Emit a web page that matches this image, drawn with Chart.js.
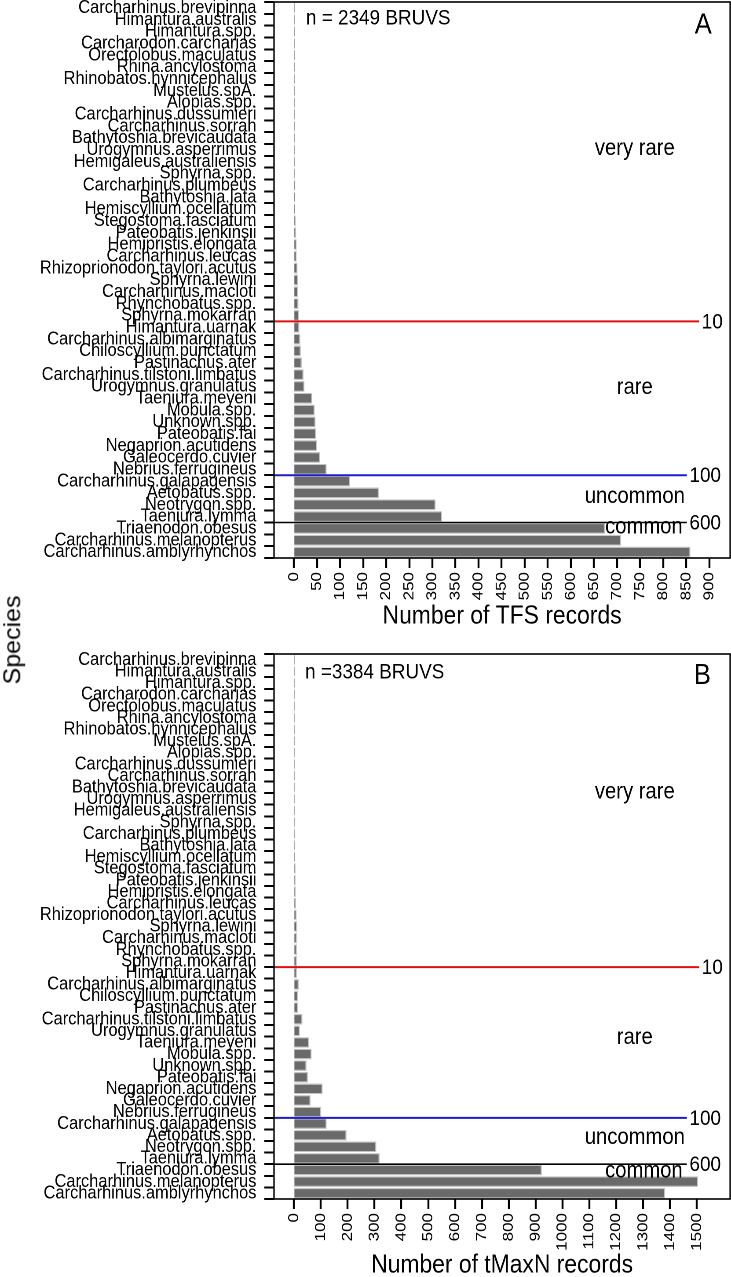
<!DOCTYPE html>
<html>
<head>
<meta charset="utf-8">
<script src="https://cdn.jsdelivr.net/npm/chart.js@4"></script>
<style>
body{margin:0;background:#fff;width:731px;height:1277px;position:relative;overflow:hidden;font-family:"Liberation Sans",Arial,sans-serif}
#chartA{position:absolute;left:0;top:0;width:731px;height:640px}
#chartB{position:absolute;left:0;top:640px;width:731px;height:637px}
#ytitle{position:absolute;left:12px;top:640px;transform:translate(-50%,-50%) scaleX(0.95) rotate(-90deg);font-size:25px;white-space:nowrap;color:#000}
</style>
</head>
<body>
<!-- drawn 831 wide and squeezed into 731 to get the narrow lettering of the original -->
<canvas id="chartA" width="831" height="640" style="width:731px;height:640px"></canvas>
<canvas id="chartB" width="831" height="637" style="width:731px;height:637px"></canvas>
<div id="ytitle">Species</div>
<script>
// species, top to bottom
var species = [
  'Carcharhinus.brevipinna', 'Himantura.australis', 'Himantura.spp.', 'Carcharodon.carcharias',
  'Orectolobus.maculatus', 'Rhina.ancylostoma', 'Rhinobatos.hynnicephalus', 'Mustelus.spA.',
  'Alopias.spp.', 'Carcharhinus.dussumieri', 'Carcharhinus.sorrah', 'Bathytoshia.brevicaudata',
  'Urogymnus.asperrimus', 'Hemigaleus.australiensis', 'Sphyrna.spp.', 'Carcharhinus.plumbeus',
  'Bathytoshia.lata', 'Hemiscyllium.ocellatum', 'Stegostoma.fasciatum', 'Pateobatis.jenkinsii',
  'Hemipristis.elongata', 'Carcharhinus.leucas', 'Rhizoprionodon.taylori.acutus', 'Sphyrna.lewini',
  'Carcharhinus.macloti', 'Rhynchobatus.spp.', 'Sphyrna.mokarran', 'Himantura.uarnak',
  'Carcharhinus.albimarginatus', 'Chiloscyllium.punctatum', 'Pastinachus.ater', 'Carcharhinus.tilstoni.limbatus',
  'Urogymnus.granulatus', 'Taeniura.meyeni', 'Mobula.spp.', 'Unknown.spp.',
  'Pateobatis.fai', 'Negaprion.acutidens', 'Galeocerdo.cuvier', 'Nebrius.ferrugineus',
  'Carcharhinus.galapagensis', 'Aetobatus.spp.', 'Neotrygon.spp.', 'Taeniura.lymma',
  'Triaenodon.obesus', 'Carcharhinus.melanopterus', 'Carcharhinus.amblyrhynchos'
];

// number of TFS records (panel A)
var tfsRecords = [
  1, 1, 1, 1, 1, 1, 1, 2,
  2, 2, 2, 2, 2, 2, 2, 3,
  3, 3, 4, 5, 6, 6, 8, 9,
  9, 10, 11, 12, 14, 15, 17, 21,
  23, 40, 45, 47, 48, 50, 57, 71,
  122, 184, 307, 321, 674, 709, 859
];

// number of tMaxN records (panel B)
var tmaxnRecords = [
  1, 1, 1, 1, 1, 1, 1, 1,
  2, 2, 2, 2, 3, 3, 3, 4,
  4, 5, 6, 6, 7, 8, 10, 12,
  11, 11, 11, 11, 18, 15, 15, 32,
  22, 56, 66, 47, 52, 107, 62, 102,
  122, 196, 307, 319, 923, 1505, 1382
];

var ticksA = [0, 50, 100, 150, 200, 250, 300, 350, 400, 450, 500, 550, 600, 650, 700, 750, 800, 850, 900];
var ticksB = [0, 100, 200, 300, 400, 500, 600, 700, 800, 900, 1000, 1100, 1200, 1300, 1400, 1500];

// rarity cut-offs: label and position between categories
var cutLabels = ['10', '100', '600'];
var cutPositions = [26.5, 39.5, 43.5];

var FONT = '"Liberation Sans", Arial, sans-serif';

var boxPlugin = {
  id: 'boxPlugin',
  afterDatasetsDraw: (chart, args, opts) => {
    var ctx = chart.ctx, a = chart.chartArea, ys = chart.scales.y;
    var w = a.right - a.left;
    ctx.save();
    cutLabels.forEach((lab, i) => {
      var y = ys.getPixelForValue(cutPositions[i]);
      var st = opts.cutStyles[i];
      var x2 = a.left + st.end * w;
      ctx.strokeStyle = st.color;
      ctx.lineWidth = st.width;
      ctx.beginPath();
      ctx.moveTo(a.left, y);
      ctx.lineTo(x2, y);
      ctx.stroke();
      ctx.fillStyle = '#000';
      ctx.font = '21.5px ' + FONT;
      ctx.textAlign = 'left';
      ctx.textBaseline = 'middle';
      ctx.fillText(lab, x2 + 3, y + 1);
    });
    opts.notes.forEach(n => {
      ctx.fillStyle = '#000';
      ctx.font = n.size + 'px ' + FONT;
      ctx.textAlign = n.align;
      ctx.textBaseline = 'middle';
      ctx.fillText(n.text, a.left + n.x * w, ys.getPixelForValue(n.y));
    });
    ctx.strokeStyle = '#000';
    ctx.lineWidth = 1.6;
    ctx.strokeRect(a.left, a.top, w, a.bottom - a.top);
    ctx.restore();
  }
};

var makePanel = (id, values, tickVals, xMin, xMax, xTitle, notes, pad, axisH, titlePad) => {
  return new Chart(document.getElementById(id), {
    type: 'bar',
    data: {
      labels: species,
      datasets: [{
        data: values,
        backgroundColor: '#6a6a6a',
        borderColor: '#c4c4c4',
        borderWidth: 1.2,
        minBarLength: 1.2,
        barPercentage: 0.92,
        categoryPercentage: 1
      }]
    },
    options: {
      indexAxis: 'y',
      responsive: false,
      animation: false,
      devicePixelRatio: 2,
      layout: { padding: pad },
      plugins: {
        legend: { display: false },
        tooltip: { enabled: false },
        boxPlugin: {
          notes: notes,
          cutStyles: [
            { color: '#e01010', width: 2, end: 0.932 },
            { color: '#1c1cc8', width: 2, end: 0.905 },
            { color: '#000', width: 1.6, end: 0.905 }
          ]
        }
      },
      scales: {
        x: {
          min: xMin,
          max: xMax,
          afterBuildTicks: s => { s.ticks = tickVals.map(v => ({ value: v })); },
          afterFit: s => { s.height = axisH; s.paddingLeft = 0; s.paddingRight = 0; },
          border: { display: false },
          grid: { drawOnChartArea: false, tickLength: 10, color: '#000', tickWidth: 2.2 },
          ticks: {
            autoSkip: false, maxRotation: 90, minRotation: 90, padding: 4,
            color: '#000', font: { family: FONT, size: 17 },
            callback: v => String(v)
          },
          title: {
            display: true, text: xTitle, color: '#000',
            font: { family: FONT, size: 26, lineHeight: 0.9 },
            padding: { top: 0, bottom: titlePad }
          }
        },
        y: {
          afterFit: s => { s.width = 311.5; s.paddingTop = 0; s.paddingBottom = 0; },
          border: { display: false },
          grid: { drawOnChartArea: false, tickLength: 11, color: '#000', tickWidth: 2 },
          ticks: { autoSkip: false, padding: 9, color: '#000', font: { family: FONT, size: 18.7 } }
        }
      }
    },
    plugins: [boxPlugin]
  });
};

var chartA = makePanel('chartA', tfsRecords, ticksA, -43, 945, 'Number of TFS records', [
  { text: 'n = 2349 BRUVS', x: 0.070, y: 0.9, align: 'left', size: 21.5 },
  { text: 'A', x: 0.941, y: 1.5, align: 'center', size: 29 },
  { text: 'very rare', x: 0.791, y: 11.9, align: 'center', size: 23 },
  { text: 'rare', x: 0.791, y: 32.1, align: 'center', size: 23 },
  { text: 'uncommon', x: 0.791, y: 41.3, align: 'center', size: 23 },
  { text: 'common', x: 0.811, y: 43.9, align: 'center', size: 23 }
], { top: 2, right: 1, left: 0, bottom: 0 }, 82, 12);

var chartB = makePanel('chartB', tmaxnRecords, ticksB, -74, 1624, 'Number of tMaxN records', [
  { text: 'n =3384 BRUVS', x: 0.068, y: 1.1, align: 'left', size: 21.5 },
  { text: 'B', x: 0.939, y: 1.4, align: 'center', size: 29 },
  { text: 'very rare', x: 0.791, y: 11.4, align: 'center', size: 23 },
  { text: 'rare', x: 0.791, y: 32.6, align: 'center', size: 23 },
  { text: 'uncommon', x: 0.791, y: 41.2, align: 'center', size: 23 },
  { text: 'common', x: 0.811, y: 44.1, align: 'center', size: 23 }
], { top: 14, right: 1, left: 0, bottom: 0 }, 78, 0);
</script>
</body>
</html>
